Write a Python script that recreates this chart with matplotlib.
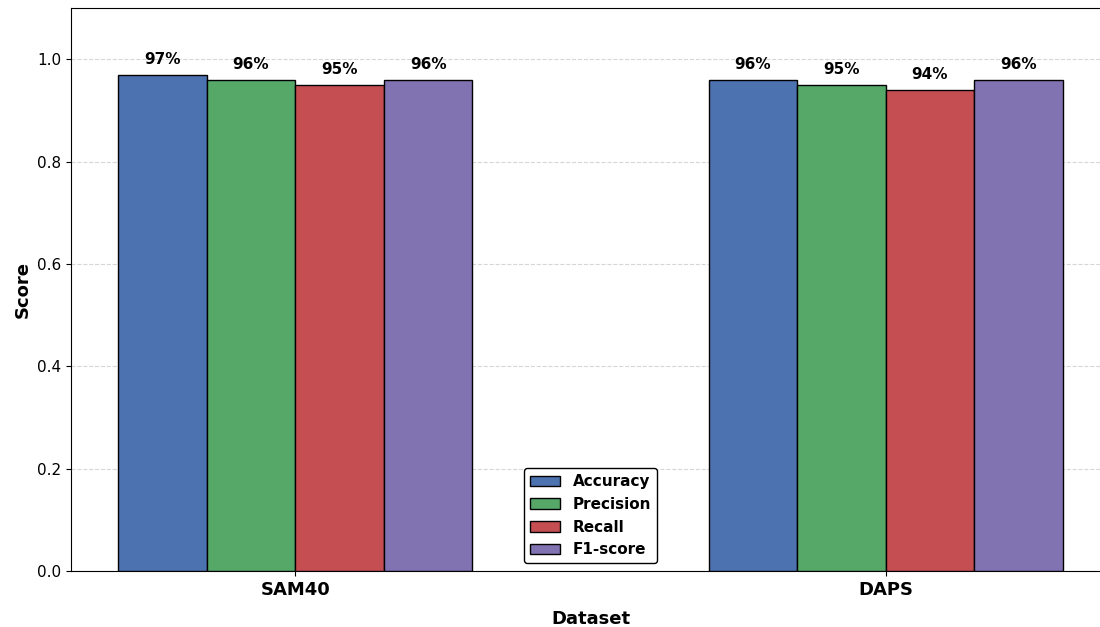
import numpy as np
import matplotlib.pyplot as plt

datasets = ["SAM40", "DAPS"]
metrics = ["Accuracy", "Precision", "Recall", "F1-score"]
accuracy = [0.97, 0.96]
precision = [0.96, 0.95]
recall = [0.95, 0.94]
f1_score = [0.96, 0.96]
colors = ["#4C72B0", "#55A868", "#C44E52", "#8172B2"]

values = [accuracy, precision, recall, f1_score]

fig = plt.figure(figsize=(11, 6.27), dpi=100)
# axes runs slightly past the right edge, as in the reference
ax = fig.add_axes([71 / 1100, 1 - 571 / 627, (1110 - 71) / 1100, (571 - 8) / 627])

x = np.arange(len(datasets))
width = 0.15
for i, (name, vals) in enumerate(zip(metrics, values)):
    pos = x + (i - 1.5) * width
    bars = ax.bar(pos, vals, width, label=name, color=colors[i],
                  edgecolor="black", linewidth=1, zorder=3)
    for b, v in zip(bars, vals):
        ax.text(b.get_x() + b.get_width() / 2, v + 0.015, f"{round(v * 100)}%",
                ha="center", va="bottom", fontsize=11, fontweight="bold")

ax.set_ylim(0, 1.1)
ax.set_xlim(-0.38, 1.38)
ax.set_yticks([0.0, 0.2, 0.4, 0.6, 0.8, 1.0])
ax.set_xticks(x)
ax.set_xticklabels(datasets, fontsize=13, fontweight="bold")
ax.tick_params(axis="y", labelsize=11)
ax.set_xlabel("Dataset", fontsize=13, fontweight="bold", labelpad=8)
ax.set_ylabel("Score", fontsize=13, fontweight="bold")
ax.grid(axis="y", linestyle="--", color="#cccccc", alpha=0.8, zorder=0)

ax.legend(loc="lower center", prop={"weight": "bold", "size": 11},
          framealpha=1, edgecolor="black")

fig.savefig("out.png", dpi=100)
